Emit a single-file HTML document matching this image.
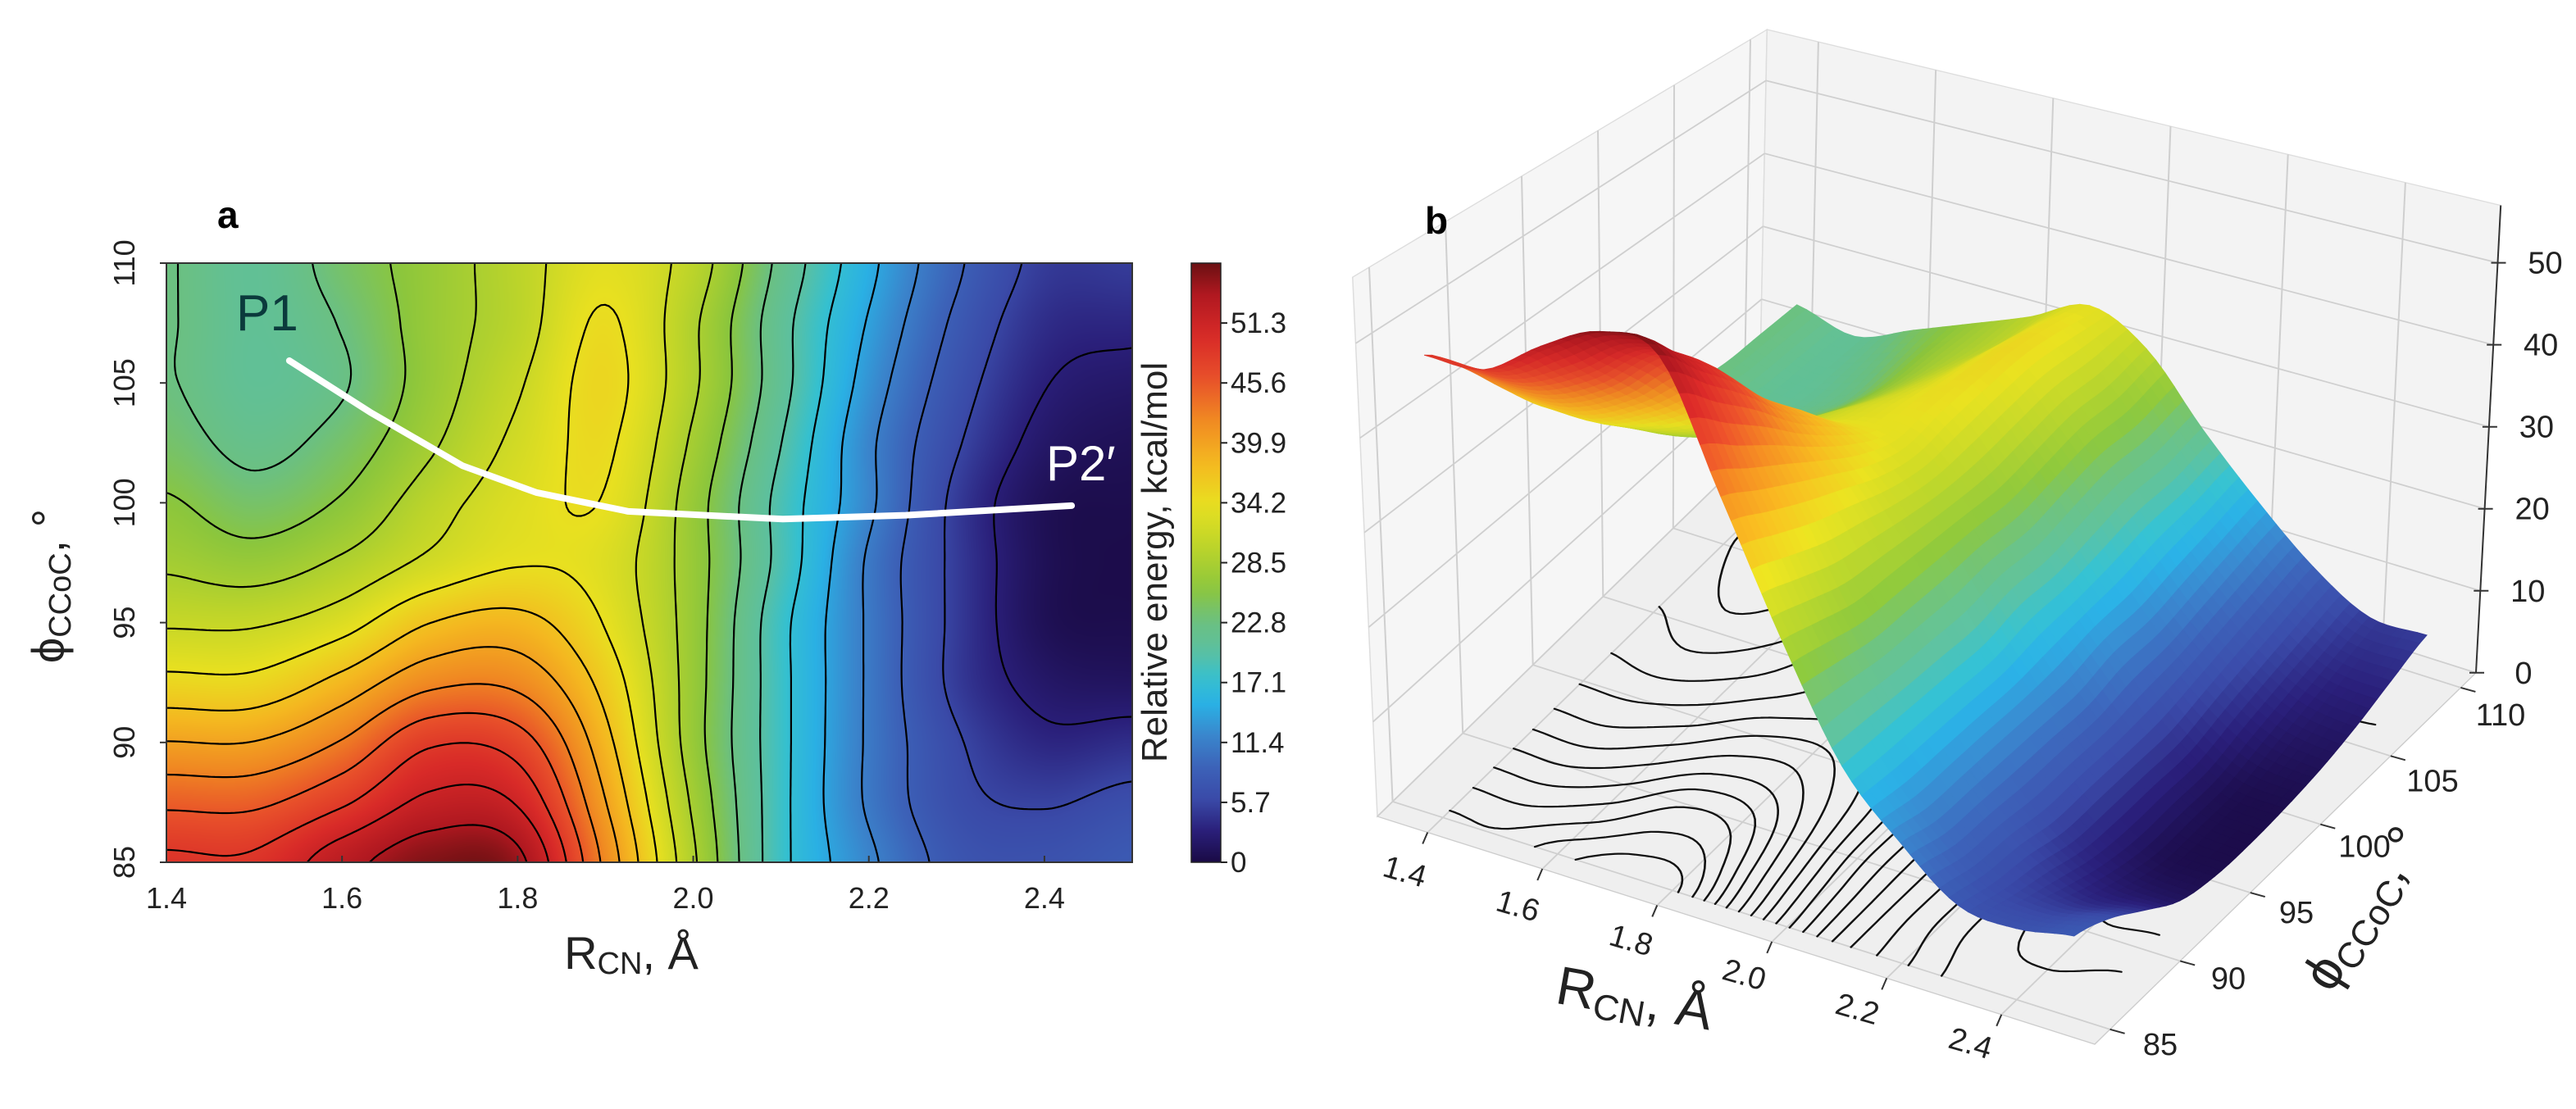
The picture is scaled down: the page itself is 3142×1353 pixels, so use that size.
<!DOCTYPE html>
<html><head><meta charset="utf-8">
<style>
html,body{margin:0;padding:0;background:#fff;}
#wrap{position:relative;width:3142px;height:1353px;overflow:hidden;background:#fff;font-family:"Liberation Sans",sans-serif;}
#heat{position:absolute;left:203px;top:321px;}
#svg{position:absolute;left:0;top:0;}
</style></head>
<body>
<div id="wrap">
<canvas id="heat" width="1178" height="731"></canvas>
<svg id="svg" width="3142" height="1353" xmlns="http://www.w3.org/2000/svg">
  <defs><linearGradient id="cbgrad" x1="0" y1="1" x2="0" y2="0"></linearGradient>
  <clipPath id="clipA"><rect x="203" y="321" width="1178" height="731"/></clipPath></defs>
  <g id="gA"></g>
  <g id="gB" transform="translate(1640,0) scale(1,0.855)"></g>
  <g id="gBt" transform="translate(1640,0)"></g>
  <text x="265" y="278" font-size="46" font-weight="bold">a</text>
  <text x="1738" y="285" font-size="46" font-weight="bold">b</text>
</svg>
</div>
<script>
// ---- data ----
const rValues=[1.4,1.5,1.6,1.7,1.8,1.9,2.0,2.1,2.2,2.3,2.4,2.5];
const phiValues=[110,107.5,105,102.5,100,97.5,95,92.5,90,87.5,85];
const energy110=[23,21,24,27,30,33.5,30,22,15,9,5,5];
const energy1075=[23,21,23,27,30,34.5,29,21,14,8,4,3.5];
const energy105=[23,21,22.5,27,31,35,29,21,13,7,3,2];
const energy1025=[24,22,24,28,32,34.6,28,20,12,6,2,1];
const energy100=[26,24,26,30,33,34,27,19,12,5,1,0.5];
const energy975=[28,27,29,32,34,33,27,19,11,5,1,0.3];
const energy95=[31,31,33,37,38,34,27,18,11,5,1,0.5];
const energy925=[35,35,38,42,42,36,27,18,11,5,2,1.5];
const energy90=[40,40,43,48,47,38,27,18,11,6,3.5,4];
const energy875=[45,45,48,52,51,40,28,18,11,6.5,5.5,6.5];
const energy85=[49,49,53,56,55,42,29,18,12,7.5,7,8];
const pathR=[1.54,1.632,1.737,1.821,1.926,2.102,2.242,2.431];
const pathPhi=[105.93,103.78,101.55,100.43,99.64,99.32,99.48,99.88];
const xTicks=[1.4,1.6,1.8,2.0,2.2,2.4];
const yTicks=[85,90,95,100,105,110];
const cbTicks=[0,5.7,11.4,17.1,22.8,28.5,34.2,39.9,45.6,51.3];
const zTicks=[0,10,20,30,40,50];
const phiTicks3d=[85,90,95,100,105,110];
const rTicks3d=[1.4,1.6,1.8,2.0,2.2,2.4];
const E=[energy110,energy1075,energy105,energy1025,energy100,energy975,energy95,energy925,energy90,energy875,energy85];
const EMAX=57;

const SVGNS="http://www.w3.org/2000/svg";
function mk(tag,attrs,parent){const e=document.createElementNS(SVGNS,tag);for(const k in attrs)e.setAttribute(k,attrs[k]);parent.appendChild(e);return e;}

const cstops=[[0,[26,10,69]],[3,[42,31,122]],[6,[58,74,168]],[9,[60,98,184]],[12,[58,133,204]],[15,[42,176,228]],[17.5,[53,192,208]],[20,[92,192,160]],[23,[108,192,128]],[26,[140,198,60]],[30,[188,212,42]],[34,[232,224,32]],[38,[244,184,32]],[42,[240,138,34]],[46,[232,80,42]],[50,[216,42,40]],[54,[176,24,32]],[57,[106,16,18]]];
function cmap(v){if(v<=0)return cstops[0][1];for(let i=1;i<cstops.length;i++){if(v<=cstops[i][0]){const a=cstops[i-1],b=cstops[i];const t=(v-a[0])/(b[0]-a[0]);return [0,1,2].map(k=>Math.round(a[1][k]+(b[1][k]-a[1][k])*t));}}return cstops[cstops.length-1][1];}
function rgb(c){return "rgb("+c[0]+","+c[1]+","+c[2]+")";}

function crw(t){const t2=t*t,t3=t2*t;return [(-t3+2*t2-t)/2,(3*t3-5*t2+2)/2,(-3*t3+4*t2+t)/2,(t3-t2)/2];}
function field(R,phi){
  const nI=rValues.length,nJ=phiValues.length;
  let fi=(R-rValues[0])/(rValues[1]-rValues[0]);let fj=(phiValues[0]-phi)/(phiValues[0]-phiValues[1]);
  fi=Math.max(0,Math.min(nI-1.0001,fi));fj=Math.max(0,Math.min(nJ-1.0001,fj));
  const i=Math.floor(fi),j=Math.floor(fj);const wi=crw(fi-i),wj=crw(fj-j);
  let s=0;
  for(let b=0;b<4;b++){const jj=Math.max(0,Math.min(nJ-1,j-1+b));let row=0;for(let a=0;a<4;a++){const ii=Math.max(0,Math.min(nI-1,i-1+a));row+=wi[a]*E[jj][ii];}s+=wj[b]*row;}
  return s;
}
function contourSegs(levels,nx,ny){
  const R0=1.4,R1=2.5,P0=110,P1=85;const G=[];
  for(let j=0;j<=ny;j++){G.push([]);for(let i=0;i<=nx;i++){G[j].push(field(R0+(R1-R0)*i/nx,P0+(P1-P0)*j/ny));}}
  const segs=[];
  for(const L of levels){
    for(let j=0;j<ny;j++)for(let i=0;i<nx;i++){
      const c=[[i,j,G[j][i]],[i+1,j,G[j][i+1]],[i+1,j+1,G[j+1][i+1]],[i,j+1,G[j+1][i]]];
      const pts=[];
      for(let k=0;k<4;k++){const p=c[k],q=c[(k+1)%4];if((p[2]-L)*(q[2]-L)<0){const t=(L-p[2])/(q[2]-p[2]);const gi=p[0]+(q[0]-p[0])*t,gj=p[1]+(q[1]-p[1])*t;pts.push([R0+(R1-R0)*gi/nx,P0+(P1-P0)*gj/ny]);}}
      if(pts.length>=2)segs.push([pts[0],pts[1]]);
      if(pts.length===4)segs.push([pts[2],pts[3]]);
    }
  }
  return segs;
}
const levels=[];for(let k=1;k<=20;k++)levels.push(2.85*k);

// ---- panel a ----
const AX0=203,AX1=1381,AY0=321,AY1=1052;
const xA=R=>AX0+(R-1.4)/1.1*(AX1-AX0);
const yA=p=>AY0+(110-p)/25*(AY1-AY0);
(function(){
  const cv=document.getElementById('heat');const ctx=cv.getContext('2d');const W=cv.width,H=cv.height;
  const img=ctx.createImageData(W,H);
  for(let y=0;y<H;y++)for(let x=0;x<W;x++){const c=cmap(field(1.4+(x+0.5)/W*1.1,110-(y+0.5)/H*25));const o=(y*W+x)*4;img.data[o]=c[0];img.data[o+1]=c[1];img.data[o+2]=c[2];img.data[o+3]=255;}
  ctx.putImageData(img,0,0);
})();
const gA=document.getElementById('gA');
(function(){
  const segs=contourSegs(levels,240,140);let d="";
  for(const s of segs)d+="M"+xA(s[0][0]).toFixed(1)+" "+yA(s[0][1]).toFixed(1)+"L"+xA(s[1][0]).toFixed(1)+" "+yA(s[1][1]).toFixed(1);
  const p=mk('path',{d:d,stroke:'#000','stroke-width':2.2,fill:'none','clip-path':'url(#clipA)','stroke-linecap':'round'},gA);
  
  
  let pd="";pathR.forEach((r,i)=>{pd+=(i?"L":"M")+xA(r).toFixed(1)+" "+yA(pathPhi[i]).toFixed(1);});
  const wp=mk('path',{d:pd,stroke:'#fff','stroke-width':8,fill:'none','stroke-linecap':'round','stroke-linejoin':'round'},gA);
  
  
  const fr=mk('rect',{x:AX0,y:AY0,width:AX1-AX0,height:AY1-AY0,fill:'none',stroke:'#333','stroke-width':2},gA);
  
  
  const p1=mk('text',{x:288,y:403,'font-size':62,fill:'#0b3a3c'},gA);p1.textContent="P1";
  
  
  const p2=mk('text',{x:1276,y:586,'font-size':60,fill:'#fff'},gA);p2.textContent="P2′";
  
  
  xTicks.forEach(t=>{
    const l=mk('line',{x1:xA(t),x2:xA(t),y1:AY1,y2:AY1-8,stroke:'#333','stroke-width':2},gA);
    
    
    const tx=mk('text',{x:xA(t),y:1108,'font-size':36,'text-anchor':'middle',fill:'#222'},gA);tx.textContent=t.toFixed(1);
    
    
  });
  yTicks.forEach(t=>{
    const l=mk('line',{x1:AX0,x2:AX0-8,y1:yA(t),y2:yA(t),stroke:'#333','stroke-width':2},gA);
    
    
    const tx=mk('text',{x:0,y:0,'font-size':36,'text-anchor':'middle',fill:'#222',transform:'translate(164,'+yA(t)+') rotate(-90)'},gA);tx.textContent=String(t);
    
    
  });
  const xl=mk('text',{x:770,y:1182,'font-size':56,'text-anchor':'middle',fill:'#222'},gA);
  xl.innerHTML='R<tspan font-size="38" dy="6">CN</tspan><tspan dy="-6">, Å</tspan>';
  
  
  const yl=mk('text',{x:0,y:0,'font-size':56,'text-anchor':'middle',fill:'#222',transform:'translate(78,715) rotate(-90)'},gA);
  yl.innerHTML='ϕ<tspan font-size="38" dy="8">CCoC</tspan><tspan dy="-8">, °</tspan>';
  
  
  const gr=document.getElementById('cbgrad');
  for(let v=0;v<=EMAX;v+=1.5){mk('stop',{offset:(v/EMAX),'stop-color':rgb(cmap(v))},gr);}
  const CB0=1453,CB1=1489;
  const cb=mk('rect',{x:CB0,y:AY0,width:CB1-CB0,height:AY1-AY0,fill:'url(#cbgrad)',stroke:'#222','stroke-width':1.5},gA);
  
  
  const yc=v=>AY1-v/EMAX*(AY1-AY0);
  cbTicks.forEach(t=>{
    const l=mk('line',{x1:CB1,x2:CB1+8,y1:yc(t),y2:yc(t),stroke:'#222','stroke-width':2},gA);
    
    
    const tx=mk('text',{x:CB1+12,y:yc(t)+12,'font-size':35,fill:'#222'},gA);tx.textContent=(t===0?"0":t.toFixed(1));
    
    
  });
  const cl=mk('text',{x:0,y:0,'font-size':44,'text-anchor':'middle',fill:'#222',transform:'translate(1423,686) rotate(-90)'},gA);
  cl.textContent="Relative energy, kcal/mol";
  
  
})();

// ---- panel b ----
const gB=document.getElementById('gB');
const gBt=document.getElementById('gBt');
const SY=0.855;
function bil(a00,a10,a01,a11,u,v){return a00*(1-u)*(1-v)+a10*u*(1-v)+a01*(1-u)*v+a11*u*v;}
function PB(u,v,e){const bx=40+875*u+465*v,by=1165+325*u-530*v;const s=bil(13.5,14.8,10.4,11.7,u,v),ln=bil(-0.53,0,0.18,0.53,u,v);return [bx+ln*e,by-s*e];}
const uR=R=>0.07+0.88*(R-1.4)/1.1;
const vP=p=>0.04+0.92*(p-85)/25;
function P3(R,phi,e){return PB(uR(R),vP(phi),e);}
function poly(pts){return pts.map(p=>p[0].toFixed(1)+","+p[1].toFixed(1)).join(" ");}
(function(){
  const wl=mk('polygon',{points:poly([PB(0,0,0),PB(0,1,0),PB(0,1,EMAX),PB(0,0,EMAX)]),fill:'#f6f6f6',stroke:'#ddd','stroke-width':1.5},gB);
  
  
  const wr=mk('polygon',{points:poly([PB(0,1,0),PB(1,1,0),PB(1,1,EMAX),PB(0,1,EMAX)]),fill:'#f3f3f3',stroke:'#ddd','stroke-width':1.5},gB);
  
  
  const fl=mk('polygon',{points:poly([PB(0,0,0),PB(1,0,0),PB(1,1,0),PB(0,1,0)]),fill:'#efefef',stroke:'#ccc','stroke-width':1.5},gB);
  
  
  let d="";
  const ln=(a,b)=>{d+="M"+a[0].toFixed(1)+" "+a[1].toFixed(1)+"L"+b[0].toFixed(1)+" "+b[1].toFixed(1);};
  phiTicks3d.forEach(p=>{const v=vP(p);ln(PB(0,v,0),PB(0,v,EMAX));ln(PB(0,v,0),PB(1,v,0));});
  rTicks3d.forEach(r=>{const u=uR(r);ln(PB(u,1,0),PB(u,1,EMAX));ln(PB(u,0,0),PB(u,1,0));});
  zTicks.forEach(z=>{ln(PB(0,0,z),PB(0,1,z));ln(PB(0,1,z),PB(1,1,z));});
  const gl=mk('path',{d:d,stroke:'#cfcfcf','stroke-width':2,fill:'none'},gB);
  
  
  const segs=contourSegs(levels,120,70);let cd="";
  for(const s of segs){const a=P3(s[0][0],s[0][1],0),b=P3(s[1][0],s[1][1],0);cd+="M"+a[0].toFixed(1)+" "+a[1].toFixed(1)+"L"+b[0].toFixed(1)+" "+b[1].toFixed(1);}
  const fc=mk('path',{d:cd,stroke:'#111','stroke-width':2.6,fill:'none','stroke-linecap':'round'},gB);
  
  
  const nu=66,nv=50;const quads=[];
  for(let j=0;j<nv;j++)for(let i=0;i<nu;i++){
    const r0=1.4+1.1*i/nu,r1=1.4+1.1*(i+1)/nu,p0=85+25*j/nv,p1=85+25*(j+1)/nv;
    const e00=field(r0,p0),e10=field(r1,p0),e11=field(r1,p1),e01=field(r0,p1);
    quads.push({k:(i+0.5)/nu-(j+0.5)/nv,pts:[P3(r0,p0,e00),P3(r1,p0,e10),P3(r1,p1,e11),P3(r0,p1,e01)],e:(e00+e10+e11+e01)/4,sh:(e01+e00-e10-e11)});
  }
  quads.sort((a,b)=>a.k-b.k);
  const sg=mk('g',{},gB);
  
  
  quads.forEach(q=>{
    const c=cmap(q.e);const f=Math.max(0.85,Math.min(1.08,1+q.sh*0.006));
    const cc=c.map(x=>Math.min(255,Math.round(x*f)));
    mk('polygon',{points:poly(q.pts),fill:rgb(cc),stroke:rgb(cc),'stroke-width':1},sg);
  });
  const za=PB(1,1,0),zb=PB(1,1,EMAX);
  const zl=mk('line',{x1:za[0],y1:za[1],x2:zb[0],y2:zb[1],stroke:'#333','stroke-width':2},gB);
  
  
  zTicks.forEach(z=>{const p=PB(1,1,z);
    const t=mk('line',{x1:p[0]-8,y1:p[1]*SY,x2:p[0]+10,y2:p[1]*SY,stroke:'#333','stroke-width':2},gBt);
    
    
    const tx=mk('text',{x:p[0]+58,y:p[1]*SY+13,'font-size':38,'text-anchor':'middle',fill:'#222'},gBt);tx.textContent=String(z);
    
    
  });
  const zt=mk('text',{x:0,y:0,'font-size':44,'text-anchor':'middle',fill:'#222',transform:'translate(1538,550) rotate(-90)'},gBt);
  zt.textContent="Relative energy, kcal/mol";
  
  
  phiTicks3d.forEach(p=>{const a=PB(1,vP(p),0);const v=(p-85)/25;
    const t=mk('line',{x1:a[0],y1:a[1]*SY,x2:a[0]+18,y2:a[1]*SY+5,stroke:'#333','stroke-width':2},gBt);
    
    
    const tx=mk('text',{x:995+415*v,y:(1505-470*v)*SY,'font-size':38,'text-anchor':'middle',fill:'#222'},gBt);tx.textContent=String(p);
    
    
  });
  rTicks3d.forEach(r=>{const a=PB(uR(r),0,0);const w=(r-1.4)/1.0;
    const t=mk('line',{x1:a[0],y1:a[1]*SY,x2:a[0]-6,y2:a[1]*SY+14,stroke:'#333','stroke-width':2},gBt);
    
    
    const cx=70+690*w,cy=(1258+245*w)*SY;
    const tx=mk('text',{x:0,y:0,'font-size':38,'text-anchor':'middle',fill:'#222',transform:'translate('+cx+','+cy+') rotate(16)'},gBt);tx.textContent=r.toFixed(1);
    
    
  });
  const rl=mk('text',{x:0,y:0,'font-size':66,'text-anchor':'middle',fill:'#222',transform:'translate(350,1240) rotate(10)'},gBt);
  rl.innerHTML='R<tspan font-size="44" dy="10">CN</tspan><tspan dy="-10">, Å</tspan>';
  
  
  const pl=mk('text',{x:0,y:0,'font-size':66,'text-anchor':'middle',fill:'#222',transform:'translate(1262,1120) rotate(-58)'},gBt);
  pl.innerHTML='ϕ<tspan font-size="44" dy="10">CCoC</tspan><tspan dy="-10">, °</tspan>';
  
  
})();
</script>
</body></html>
